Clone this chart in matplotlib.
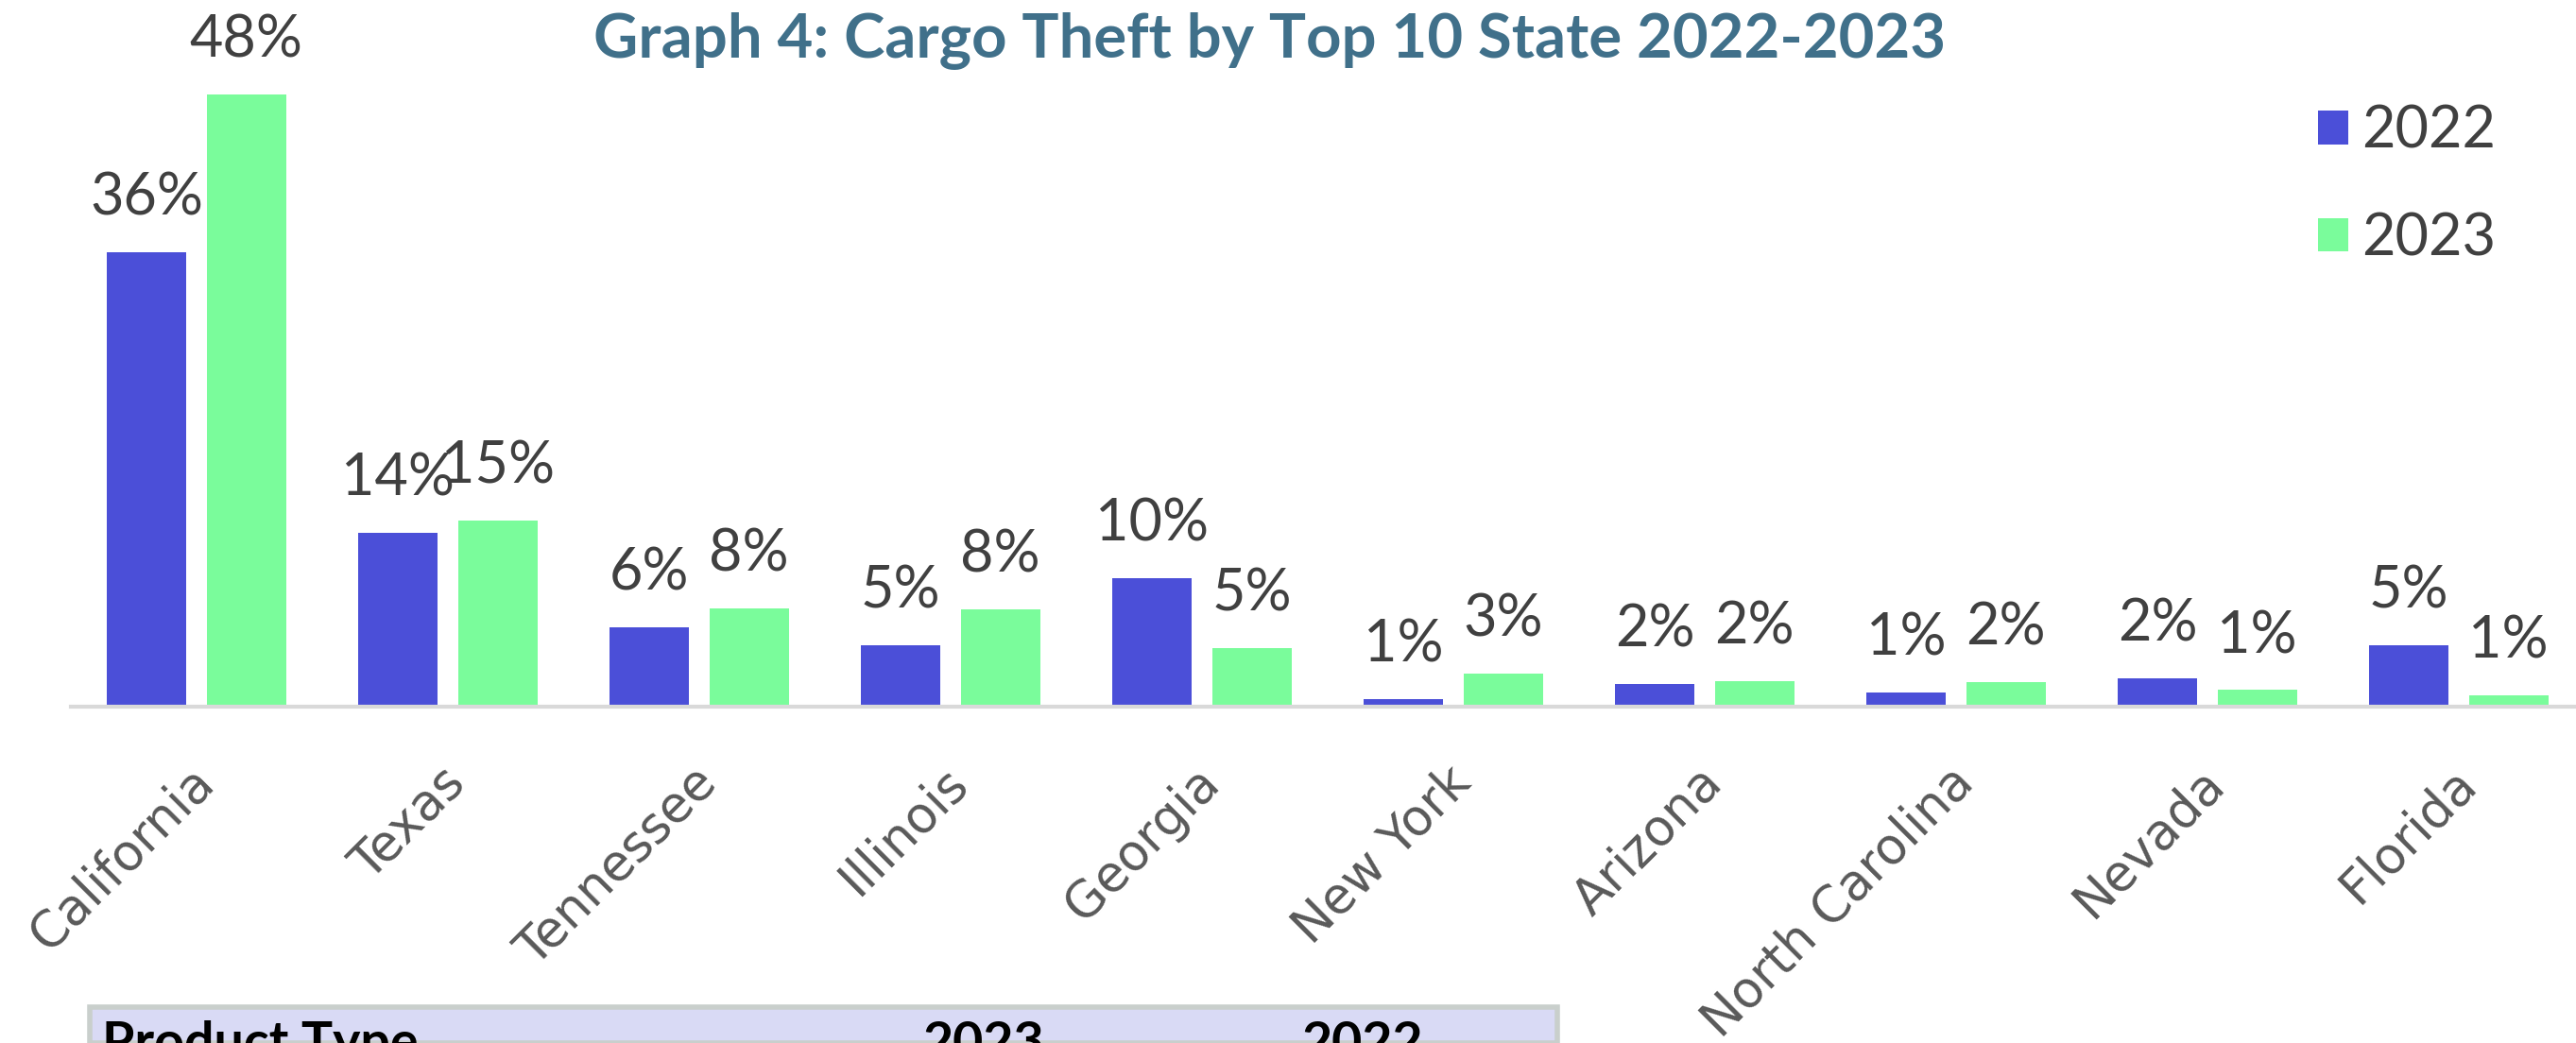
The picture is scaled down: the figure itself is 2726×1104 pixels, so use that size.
import numpy as np
import matplotlib.pyplot as plt
from matplotlib.patches import Rectangle
from matplotlib.transforms import ScaledTranslation

# data (percent of cargo thefts)
states = ["California", "Texas", "Tennessee", "Illinois", "Georgia",
          "New York", "Arizona", "North Carolina", "Nevada", "Florida"]
share_2022 = [35.6, 13.6, 6.2, 4.8, 10.1, 0.6, 1.8, 1.1, 2.2, 4.8]
share_2023 = [48.0, 14.6, 7.7, 7.6, 4.6, 2.6, 2.0, 1.9, 1.3, 0.9]
years = ["2022", "2023"]
table_header = ["Product Type", "2023", "2022"]

BLUE = "#4B4FD8"
GREEN = "#7AFC9B"
TITLE_COLOR = "#40708A"
LABEL_COLOR = "#404040"
TICK_COLOR = "#595959"

W, H = 2726, 1104
fig = plt.figure(figsize=(W / 100, H / 100), dpi=100)

# axes: baseline at y=748 px, category spacing ~266 px
ax = fig.add_axes([75 / W, (H - 748) / H, 2660 / W, 702 / H])

x = np.arange(len(states))
bw = 0.316
off = 0.198
b1 = ax.bar(x - off, share_2022, bw, color=BLUE, label=years[0], zorder=2)
b2 = ax.bar(x + off, share_2023, bw, color=GREEN, label=years[1], zorder=2)

# data labels
for bars, vals in [(b1, share_2022), (b2, share_2023)]:
    for rect, v in zip(bars, vals):
        ax.annotate(f"{v:.0f}%", xy=(rect.get_x() + rect.get_width() / 2, v),
                    xytext=(0, 41), textcoords="offset points",
                    ha="center", va="center", fontsize=44,
                    family="Lato", color=LABEL_COLOR, annotation_clip=False)

ax.set_xlim(-0.5, len(states) - 0.5)
ax.set_ylim(0, 52)
ax.set_yticks([])
ax.set_xticks(x)
ax.set_xticklabels(states, rotation=45, ha="right", va="center",
                   rotation_mode="anchor", fontsize=38, color=TICK_COLOR,
                   family="DejaVu Sans")
ax.tick_params(axis="x", length=0, pad=52)
shift = ScaledTranslation(10 / 100, 0, fig.dpi_scale_trans)
for lbl in ax.get_xticklabels():
    lbl.set_transform(lbl.get_transform() + shift)

for side in ["top", "right", "left"]:
    ax.spines[side].set_visible(False)
ax.spines["bottom"].set_color("#D9D9D9")
ax.spines["bottom"].set_linewidth(3)

# legend
fig.legend(handles=[b1, b2], labels=years, loc="upper left",
           bbox_to_anchor=(2453 / W, 0.900), frameon=False,
           prop={"family": "Lato", "size": 44}, labelcolor=LABEL_COLOR,
           handlelength=0.52, handleheight=0.52, handletextpad=0.23,
           labelspacing=0.93, borderpad=0, borderaxespad=0)

# title
fig.text(0.493, 0.961, "Graph 4: Cargo Theft by Top 10 State 2022-2023",
         ha="center", va="center", fontsize=47, fontweight="bold",
         family="Lato", color=TITLE_COLOR)

# top of the table that follows the chart (cut off by the page)
fig.patches.append(Rectangle((95 / W, 0), (1648 - 95) / W, (H - 1066) / H,
                             transform=fig.transFigure, facecolor="#D9DAF5",
                             edgecolor="#C9CFCC", linewidth=4, zorder=0))
fig.text(108 / W, 1 - 1080 / H, table_header[0], ha="left", va="top",
         fontsize=40, fontweight="bold", family="Lato", color="black")
fig.text(1041 / W, 1 - 1080 / H, table_header[1], ha="center", va="top",
         fontsize=40, fontweight="bold", family="Lato", color="black")
fig.text(1442 / W, 1 - 1080 / H, table_header[2], ha="center", va="top",
         fontsize=40, fontweight="bold", family="Lato", color="black")

plt.savefig("out.png", dpi=100)
plt.close(fig)
